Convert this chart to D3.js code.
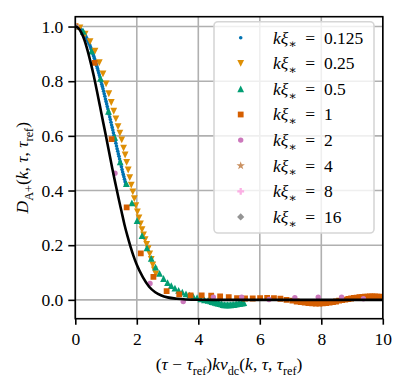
<!DOCTYPE html>
<html><head><meta charset="utf-8">
<script src="https://cdn.jsdelivr.net/npm/d3@7"></script>
<style>body{margin:0;background:#fff} svg{display:block} svg text{font-family:"Liberation Serif","DejaVu Serif",serif;}</style>
</head><body>
<script>
// ---------- data ----------
const xTicks = [0, 2, 4, 6, 8, 10];
const yTicks = [0, 0.2, 0.4, 0.6, 0.8, 1.0];
const seriesLabels = ["0.125", "0.25", "0.5", "1", "2", "4", "8", "16"];
const seriesColors = ["#0173b2", "#de8f05", "#029e73", "#d55e00", "#cc78bc", "#ca9161", "#fbafe4", "#949494"];

// reference curve (black line)
const refX = [0,0.1,0.2,0.3,0.4,0.5,0.6,0.7,0.8,0.9,1.0,1.1,1.2,1.3,1.4,1.5,1.6,1.7,1.8,1.9,2.0,2.2,2.4,2.6,2.8,3.0,3.3,3.6,4.0,4.5,5,6,7,8,9,10];
const refY = [1,0.994,0.977,0.95,0.912,0.868,0.82,0.766,0.71,0.653,0.598,0.54,0.482,0.428,0.375,0.325,0.275,0.232,0.193,0.158,0.128,0.082,0.048,0.028,0.016,0.009,0.004,0.0015,0.0003,0,0,0,0,0,0,0];

// k xi = 0.125
const s0X = [0,0.02,0.04,0.06,0.08,0.10,0.12,0.14,0.16,0.18,0.20,0.22,0.24,0.26,0.28,0.30,0.32,0.34,0.36,0.38,0.40,0.42,0.44,0.46,0.48,0.50,0.52,0.54,0.56,0.58,0.60,0.62,0.64,0.66,0.68,0.70,0.72,0.74,0.76,0.78,0.80,0.82,0.84,0.86,0.88,0.90,0.92,0.94,0.96,0.98,1.00,1.02,1.04,1.06,1.08,1.10,1.12,1.14,1.16,1.18,1.20,1.22,1.24,1.26,1.28,1.30,1.32,1.34,1.36,1.38,1.40,1.42,1.44,1.46,1.48,1.50,1.52,1.54,1.56,1.58,1.60,1.62,1.64];
const s0Y = [1.000,1.000,0.999,0.999,0.998,0.997,0.995,0.994,0.992,0.990,0.987,0.985,0.982,0.979,0.975,0.972,0.968,0.964,0.959,0.955,0.950,0.945,0.940,0.935,0.929,0.923,0.917,0.911,0.905,0.898,0.891,0.884,0.877,0.870,0.862,0.855,0.847,0.839,0.831,0.823,0.815,0.806,0.798,0.789,0.781,0.772,0.763,0.754,0.745,0.735,0.726,0.717,0.707,0.698,0.689,0.679,0.669,0.660,0.650,0.640,0.631,0.621,0.611,0.602,0.592,0.582,0.573,0.563,0.553,0.544,0.534,0.525,0.515,0.506,0.496,0.487,0.477,0.468,0.459,0.450,0.441,0.432,0.423];

// k xi = 0.25
const s1X = [0,0.15,0.32,0.48,0.64,0.78,0.9,1.0,1.09,1.17,1.25,1.32,1.39,1.45,1.51,1.57,1.62,1.67,1.72,1.77,1.82,1.87,1.92,1.97,2.02,2.07,2.12,2.17,2.22,2.27,2.32,2.37,2.42,2.47,2.52,2.57,2.62];
const s1Y = [1.0,0.995,0.972,0.945,0.91,0.868,0.827,0.79,0.754,0.722,0.69,0.662,0.634,0.61,0.585,0.555,0.53,0.503,0.475,0.447,0.42,0.395,0.37,0.345,0.322,0.3,0.278,0.257,0.238,0.22,0.203,0.187,0.168,0.148,0.128,0.11,0.095];

// k xi = 0.5
const s2X = [0,0.26,0.53,0.82,1.08,1.28,1.46,1.66,1.84,2.01,2.17,2.33,2.47,2.61,2.74,2.87,3.0,3.12,3.24,3.36,3.48,3.6,3.72,3.84,3.96,4.08,4.2,4.32,4.4,4.45,4.5,4.55,4.6,4.65,4.7,4.75,4.8,4.85,4.9,4.95,5.0,5.05,5.1,5.15,5.2,5.25,5.3,5.35,5.4,5.45,5.48];
const s2Y = [1.0,0.982,0.91,0.81,0.69,0.595,0.505,0.425,0.355,0.29,0.235,0.19,0.152,0.12,0.097,0.078,0.063,0.052,0.043,0.035,0.028,0.022,0.017,0.012,0.008,0.004,0.0,-0.002,-0.004,-0.006,-0.007,-0.009,-0.011,-0.012,-0.014,-0.015,-0.017,-0.018,-0.018,-0.018,-0.018,-0.018,-0.017,-0.017,-0.016,-0.015,-0.014,-0.013,-0.012,-0.011,-0.010];

// k xi = 1
const s3X = [0,0.63,1.18,1.67,2.13,2.54,2.97,3.38,3.75,4.11,4.42,4.71,4.99,5.26,5.52,5.77,6.01,6.24,6.46,6.67,6.87,7.06,7.2,7.33,7.46,7.58,7.7,7.82,7.94,8.05,8.16,8.27,8.38,8.48,8.58,8.68,8.78,8.88,8.97,9.06,9.15,9.24,9.33,9.42,9.5,9.58,9.66,9.74,9.82,9.9,9.98];
const s3Y = [1.0,0.867,0.588,0.338,0.17,0.084,0.032,0.02,0.016,0.016,0.015,0.013,0.01,0.006,0.005,0.005,0.006,0.007,0.006,0.004,0.0,-0.003,-0.006,-0.008,-0.01,-0.012,-0.013,-0.014,-0.014,-0.013,-0.012,-0.01,-0.008,-0.006,-0.003,-0.001,0.001,0.003,0.005,0.007,0.008,0.01,0.011,0.012,0.012,0.013,0.013,0.013,0.012,0.012,0.011];

// k xi = 2
const s4X = [0,1.29,2.43,3.51,4.49,5.41,6.3,7.14,7.9,8.66,9.37];
const s4Y = [1.0,0.463,0.06,-0.006,0.01,0.01,0.001,0.008,0.01,0.01,0.004];

// k xi = 4, 8, 16
const s5X = [0]; const s5Y = [1.0];
const s6X = [0]; const s6Y = [1.0];
const s7X = [0]; const s7Y = [1.0];

const seriesX = [s0X, s1X, s2X, s3X, s4X, s5X, s6X, s7X];
const seriesY = [s0Y, s1Y, s2Y, s3Y, s4Y, s5Y, s6Y, s7Y];

// ---------- layout ----------
const W = 405, H = 387;
const L = 75.3, R = 382.8, T = 16.7, B = 318.7;
const FONT = '"Liberation Serif","DejaVu Serif",serif';
const FS = 17.5;

const x = d3.scaleLinear().domain([0, 10]).range([L, R]);
const y = d3.scaleLinear().domain([-0.069, 1.036]).range([B, T]);

const svg = d3.select("body").append("svg").attr("width", W).attr("height", H)
  .style("font-family", FONT);

svg.append("defs").append("clipPath").attr("id", "clip")
  .append("rect").attr("x", L).attr("y", T).attr("width", R - L).attr("height", B - T);

// grid
const grid = svg.append("g").attr("stroke", "#b0b0b0").attr("stroke-width", 1.6);
grid.selectAll(".gx").data(xTicks).join("line")
  .attr("x1", d => x(d)).attr("x2", d => x(d)).attr("y1", T).attr("y2", B);
grid.selectAll(".gy").data(yTicks).join("line")
  .attr("x1", L).attr("x2", R).attr("y1", d => y(d)).attr("y2", d => y(d));

// marker shapes
function markerPath(i) {
  switch (i) {
    case 0: return d3.symbol(d3.symbolCircle, Math.PI * 1.8 * 1.8)();
    case 1: { const h = 3.4; return `M0,${h}L${-h},${-h}L${h},${-h}Z`; }
    case 2: { const h = 3.4; return `M0,${-h}L${-h},${h}L${h},${h}Z`; }
    case 3: { const h = 2.9; return `M${-h},${-h}H${h}V${h}H${-h}Z`; }
    case 4: return d3.symbol(d3.symbolCircle, Math.PI * 2.7 * 2.7)();
    case 5: return d3.symbol(d3.symbolStar, 22)();
    case 6: return d3.symbol(d3.symbolCross, 26)();
    case 7: { const h = 3.6; return `M0,${-h}L${h},0L0,${h}L${-h},0Z`; }
  }
}

const plot = svg.append("g").attr("clip-path", "url(#clip)");
seriesX.forEach((xs, i) => {
  const pts = xs.map((v, j) => [v, seriesY[i][j]]);
  plot.append("g").attr("fill", seriesColors[i])
    .selectAll("path").data(pts).join("path")
    .attr("d", markerPath(i))
    .attr("transform", d => `translate(${x(d[0])},${y(d[1])})`);
});

// reference line
const refPts = refX.map((v, j) => [v, refY[j]]);
plot.append("path").datum(refPts)
  .attr("fill", "none").attr("stroke", "#000").attr("stroke-width", 2.6)
  .attr("d", d3.line().x(d => x(d[0])).y(d => y(d[1])).curve(d3.curveMonotoneX));

// axes
const xAxis = svg.append("g").attr("transform", `translate(0,${B})`)
  .call(d3.axisBottom(x).tickValues(xTicks).tickSize(6).tickPadding(8).tickFormat(d3.format("d")));
const yAxis = svg.append("g").attr("transform", `translate(${L},0)`)
  .call(d3.axisLeft(y).tickValues(yTicks).tickSize(7).tickPadding(5).tickFormat(d3.format(".1f")));
[xAxis, yAxis].forEach(a => {
  a.attr("font-family", null);
  a.select(".domain").remove();
  a.selectAll("line").attr("stroke", "#000").attr("stroke-width", 1.6);
  a.selectAll("text").style("font-family", FONT).attr("font-size", FS).attr("fill", "#000");
});

// frame
svg.append("rect").attr("x", L).attr("y", T).attr("width", R - L).attr("height", B - T)
  .attr("fill", "none").attr("stroke", "#000").attr("stroke-width", 1.6);

// math text helper
function mtext(t, parts, fs) {
  let shifted = false;
  parts.forEach(([s, st]) => {
    const sub = st.startsWith("s");
    const sp = t.append("tspan").text(s)
      .attr("font-style", st.endsWith("i") ? "italic" : "normal")
      .attr("font-size", sub ? fs * 0.7 : fs);
    if (sub && !shifted) { sp.attr("dy", fs * 0.28); shifted = true; }
    else if (!sub && shifted) { sp.attr("dy", -fs * 0.28); shifted = false; }
  });
}

// x label
const xl = svg.append("text").attr("x", (L + R) / 2).attr("y", 370)
  .attr("text-anchor", "middle").style("white-space", "pre");
mtext(xl, [["(", "r"], ["τ", "i"], [" − ", "r"], ["τ", "i"], ["ref", "sr"], [")", "r"], ["k", "i"], ["v", "i"], ["dc", "sr"],
  ["(", "r"], ["k", "i"], [", ", "r"], ["τ", "i"], [", ", "r"], ["τ", "i"], ["ref", "sr"], [")", "r"]], FS);

// y label
const yl = svg.append("text").attr("transform", `translate(28,${(T + B) / 2}) rotate(-90)`)
  .attr("text-anchor", "middle").style("white-space", "pre");
mtext(yl, [["D", "i"], ["A+", "sr"], ["(", "r"], ["k", "i"], [", ", "r"], ["τ", "i"], [", ", "r"], ["τ", "i"], ["ref", "sr"], [")", "r"]], FS);

// legend
const leg = svg.append("g");
leg.append("rect").attr("x", 214).attr("y", 21.7).attr("width", 160).attr("height", 211.3).attr("rx", 4)
  .attr("fill", "#fff").attr("fill-opacity", 0.8).attr("stroke", "#d6d6d6").attr("stroke-width", 1.6);
seriesLabels.forEach((lab, i) => {
  const cy = 37.7 + i * 25.6;
  leg.append("path").attr("d", markerPath(i)).attr("fill", seriesColors[i])
    .attr("transform", `translate(240.7,${cy})`);
  const t = leg.append("text").attr("x", 273).attr("y", cy + 5.8).style("white-space", "pre");
  mtext(t, [["k", "i"], ["ξ", "i"], ["∗", "sr"], ["\u2002=\u2002", "r"], [lab, "r"]], FS);
});
</script>
</body></html>
